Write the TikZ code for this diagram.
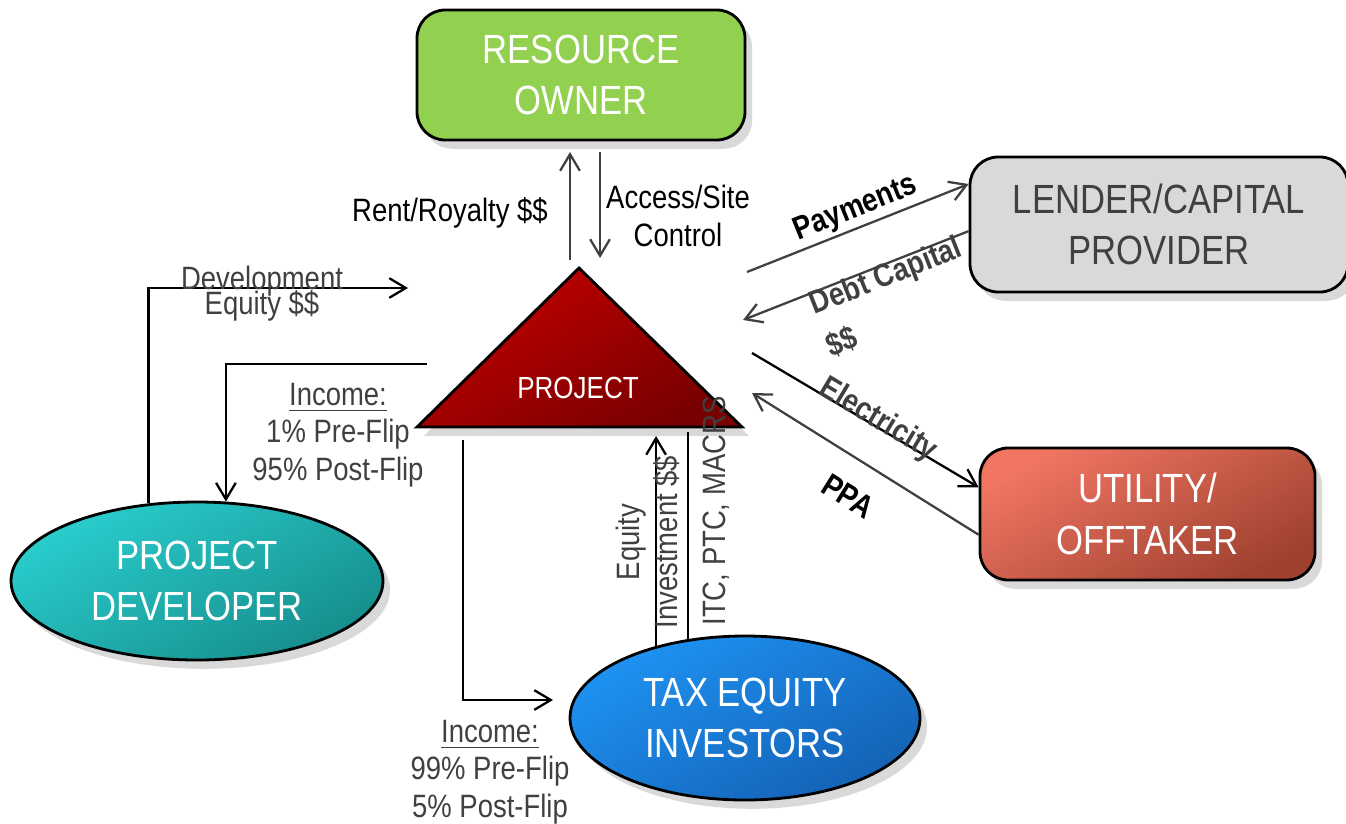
\documentclass[tikz,border=0pt]{standalone}
\usepackage{fontspec}
\setmainfont{Liberation Sans}[FakeStretch=0.85]
\usetikzlibrary{arrows.meta,shapes.geometric,shadows}

\definecolor{ownergreen}{HTML}{92D050}
\definecolor{lendergray}{HTML}{D9D9D9}
\definecolor{textgray}{HTML}{404040}
\definecolor{utilitytop}{HTML}{F07563}
\definecolor{utilitybot}{HTML}{A0412F}
\definecolor{devtop}{HTML}{2ACDCD}
\definecolor{devbot}{HTML}{168E8D}
\definecolor{taxtop}{HTML}{1E92F2}
\definecolor{taxbot}{HTML}{1462B5}
\definecolor{projtop}{HTML}{C20000}
\definecolor{projbot}{HTML}{780000}

\tikzset{
  party/.style={draw=black, line width=0.8pt, text=white, align=center,
    font=\fontsize{11.6}{14.6}\selectfont,
    drop shadow={shadow xshift=2pt, shadow yshift=-2.5pt, opacity=0.3}},
  partybox/.style={party, rectangle, rounded corners=8pt, inner sep=0pt},
  partyoval/.style={party, ellipse, inner sep=0pt},
  flowtext/.style={align=center, font=\fontsize{9.2}{10.7}\selectfont},
  flow/.style={line width=0.65pt, -{Straight Barb[length=4.7pt,width=5.6pt]}},
  plainflow/.style={line width=0.65pt},
}

\begin{document}
\begin{tikzpicture}
  \useasboundingbox (0,0) rectangle (13.46,-8.23);

  \node[partybox, fill=ownergreen, minimum width=3.28cm, minimum height=1.3cm] (owner) at (5.81,-0.75) {RESOURCE\\OWNER};
  \node[partybox, fill=lendergray, text=textgray, minimum width=3.78cm, minimum height=1.35cm] (lender) at (11.59,-2.245) {LENDER/CAPITAL\\PROVIDER};
  \node[partybox, top color=utilitytop, bottom color=utilitybot, shading angle=30, minimum width=3.35cm, minimum height=1.32cm] (utility) at (11.475,-5.14) {UTILITY/\\OFFTAKER};
  \node[partyoval, top color=devtop, bottom color=devbot, shading angle=30, minimum width=3.72cm, minimum height=1.58cm] (developer) at (1.97,-5.81) {PROJECT\\DEVELOPER};
  \node[partyoval, top color=taxtop, bottom color=taxbot, shading angle=30, minimum width=3.5cm, minimum height=1.64cm] (investors) at (7.45,-7.18) {TAX EQUITY\\INVESTORS};

  \shadedraw[draw=black, line width=0.8pt, top color=projtop, bottom color=projbot, shading angle=30,
    drop shadow={shadow xshift=2pt, shadow yshift=-2.5pt, opacity=0.3}]
    (5.79,-2.68) -- (4.17,-4.27) -- (7.42,-4.27) -- cycle;
  \node[text=white, font=\fontsize{8.7}{10}\selectfont] (project) at (5.78,-3.88) {PROJECT};

  \coordinate (rentfoot) at (5.70,-2.60);
  \coordinate (renttip) at (5.70,-1.52);
  \coordinate (accessfoot) at (6.00,-1.52);
  \coordinate (accesstip) at (6.00,-2.58);
  \coordinate (payfoot) at (7.47,-2.72);
  \coordinate (debttip) at (7.43,-3.20);
  \coordinate (elecfoot) at (7.52,-3.53);
  \coordinate (ppatip) at (7.52,-3.93);
  \coordinate (devtip) at (4.08,-2.88);
  \coordinate (devincfoot) at (4.27,-3.64);
  \coordinate (taxincfoot) at (4.63,-4.40);
  \coordinate (taxinctip) at (5.53,-7.00);

  \draw[flow, textgray] (rentfoot) -- (renttip);
  \draw[flow, textgray] (accessfoot) -- (accesstip);
  \node[flowtext] (rent) at (4.50,-2.13) {Rent/Royalty \$\$};
  \node[flowtext] (access) at (6.78,-2.16) {Access/Site\\Control};

  \draw[flow, textgray] (payfoot) -- (lender.168);
  \draw[flow, textgray] (lender.182) -- (debttip);
  \node[flowtext, font=\fontsize{9.2}{10.7}\selectfont\bfseries, rotate=22] (payments) at (8.56,-2.09) {Payments};
  \node[flowtext, align=left, text=textgray, font=\fontsize{9.2}{13}\selectfont\bfseries, rotate=21.5] (debt) at (8.94,-2.97) {Debt Capital\\\$\$};

  \draw[flow] (elecfoot) -- (utility.171.5);
  \draw[flow, textgray] (utility.187.2) -- (ppatip);
  \node[flowtext, text=textgray, font=\fontsize{9.2}{10.7}\selectfont\bfseries, rotate=-31] (electricity) at (8.78,-4.20) {Electricity};
  \node[flowtext, font=\fontsize{9.2}{10.7}\selectfont\bfseries, rotate=-32] (ppa) at (8.48,-4.96) {PPA};

  \draw[flow] (developer.122) |- (devtip);
  \node[flowtext, text=textgray] (devequity) at (2.62,-2.94) {Development\\[-3.6pt]Equity \$\$};
  \draw[flow] (devincfoot) -| (developer.70);
  \node[flowtext, text=textgray] (devincome) at (3.38,-4.35) {\underline{Income:}\\1\% Pre-Flip\\95\% Post-Flip};

  \draw[flow] (taxincfoot) |- (taxinctip);
  \node[flowtext, text=textgray] (taxincome) at (4.90,-7.72) {\underline{Income:}\\99\% Pre-Flip\\5\% Post-Flip};
  \draw[flow] (investors.141) -- ++(0,2.1);
  \draw[plainflow] (investors.126) -- ++(0,2.07);
  \node[flowtext, text=textgray, rotate=90] (eqinvest) at (6.48,-5.42) {Equity\\Investment \$\$};
  \node[flowtext, text=textgray, rotate=90] (credits) at (7.16,-5.11) {ITC, PTC, MACRS};
\end{tikzpicture}
\end{document}
